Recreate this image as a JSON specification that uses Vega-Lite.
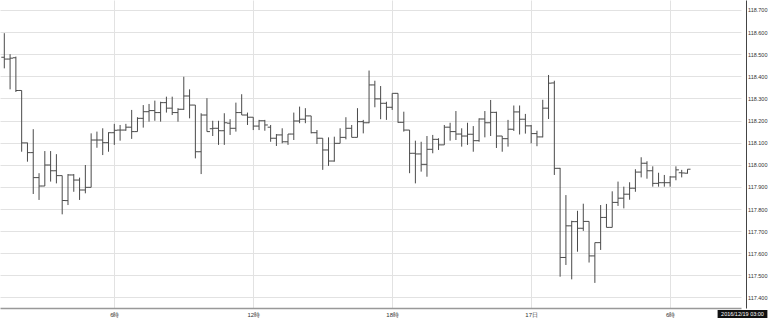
{
  "$schema": "https://vega.github.io/schema/vega-lite/v6.json",
  "width": 741,
  "height": 308,
  "padding": 0,
  "autosize": {"type": "pad"},
  "background": "white",
  "config": {"view": {"stroke": null}, "font": "Liberation Sans"},
  "data": {"values": [
    {"t":"2016-12-16T01:15:00Z","o":118.486,"h":118.595,"l":118.436,"c":118.478},
    {"t":"2016-12-16T01:30:00Z","o":118.478,"h":118.500,"l":118.341,"c":118.482},
    {"t":"2016-12-16T01:45:00Z","o":118.484,"h":118.489,"l":118.329,"c":118.336},
    {"t":"2016-12-16T02:00:00Z","o":118.336,"h":118.336,"l":118.059,"c":118.099},
    {"t":"2016-12-16T02:15:00Z","o":118.099,"h":118.100,"l":118.014,"c":118.055},
    {"t":"2016-12-16T02:30:00Z","o":118.055,"h":118.161,"l":117.868,"c":117.942},
    {"t":"2016-12-16T02:45:00Z","o":117.942,"h":117.962,"l":117.841,"c":117.904},
    {"t":"2016-12-16T03:00:00Z","o":117.904,"h":118.062,"l":117.904,"c":117.999},
    {"t":"2016-12-16T03:15:00Z","o":117.999,"h":118.062,"l":117.924,"c":117.973},
    {"t":"2016-12-16T03:30:00Z","o":117.973,"h":118.048,"l":117.916,"c":117.951},
    {"t":"2016-12-16T03:45:00Z","o":117.951,"h":117.951,"l":117.776,"c":117.838},
    {"t":"2016-12-16T04:00:00Z","o":117.838,"h":117.958,"l":117.818,"c":117.954},
    {"t":"2016-12-16T04:15:00Z","o":117.954,"h":117.958,"l":117.878,"c":117.931},
    {"t":"2016-12-16T04:30:00Z","o":117.931,"h":117.942,"l":117.841,"c":117.886},
    {"t":"2016-12-16T04:45:00Z","o":117.886,"h":117.999,"l":117.871,"c":117.898},
    {"t":"2016-12-16T05:00:00Z","o":117.898,"h":118.142,"l":117.898,"c":118.112},
    {"t":"2016-12-16T05:15:00Z","o":118.112,"h":118.150,"l":118.077,"c":118.112},
    {"t":"2016-12-16T05:30:00Z","o":118.112,"h":118.165,"l":118.044,"c":118.100},
    {"t":"2016-12-16T05:45:00Z","o":118.100,"h":118.147,"l":118.059,"c":118.145},
    {"t":"2016-12-16T06:00:00Z","o":118.145,"h":118.185,"l":118.090,"c":118.156},
    {"t":"2016-12-16T06:15:00Z","o":118.157,"h":118.180,"l":118.109,"c":118.157},
    {"t":"2016-12-16T06:30:00Z","o":118.157,"h":118.185,"l":118.154,"c":118.170},
    {"t":"2016-12-16T06:45:00Z","o":118.170,"h":118.248,"l":118.117,"c":118.150},
    {"t":"2016-12-16T07:00:00Z","o":118.150,"h":118.215,"l":118.150,"c":118.210},
    {"t":"2016-12-16T07:15:00Z","o":118.210,"h":118.270,"l":118.168,"c":118.240},
    {"t":"2016-12-16T07:30:00Z","o":118.240,"h":118.275,"l":118.195,"c":118.245},
    {"t":"2016-12-16T07:45:00Z","o":118.245,"h":118.290,"l":118.199,"c":118.236},
    {"t":"2016-12-16T08:00:00Z","o":118.236,"h":118.285,"l":118.195,"c":118.281},
    {"t":"2016-12-16T08:15:00Z","o":118.281,"h":118.308,"l":118.236,"c":118.256},
    {"t":"2016-12-16T08:30:00Z","o":118.256,"h":118.308,"l":118.225,"c":118.236},
    {"t":"2016-12-16T08:45:00Z","o":118.236,"h":118.256,"l":118.195,"c":118.251},
    {"t":"2016-12-16T09:00:00Z","o":118.251,"h":118.398,"l":118.248,"c":118.311},
    {"t":"2016-12-16T09:15:00Z","o":118.311,"h":118.341,"l":118.210,"c":118.270},
    {"t":"2016-12-16T09:30:00Z","o":118.270,"h":118.270,"l":118.029,"c":118.059},
    {"t":"2016-12-16T09:45:00Z","o":118.059,"h":118.233,"l":117.958,"c":118.225},
    {"t":"2016-12-16T10:00:00Z","o":118.225,"h":118.301,"l":118.150,"c":118.150},
    {"t":"2016-12-16T10:15:00Z","o":118.163,"h":118.199,"l":118.130,"c":118.165},
    {"t":"2016-12-16T10:30:00Z","o":118.165,"h":118.199,"l":118.090,"c":118.154},
    {"t":"2016-12-16T10:45:00Z","o":118.154,"h":118.233,"l":118.090,"c":118.190},
    {"t":"2016-12-16T11:00:00Z","o":118.188,"h":118.206,"l":118.135,"c":118.165},
    {"t":"2016-12-16T11:15:00Z","o":118.165,"h":118.281,"l":118.150,"c":118.236},
    {"t":"2016-12-16T11:30:00Z","o":118.236,"h":118.319,"l":118.225,"c":118.225},
    {"t":"2016-12-16T11:45:00Z","o":118.225,"h":118.236,"l":118.180,"c":118.215},
    {"t":"2016-12-16T12:00:00Z","o":118.215,"h":118.215,"l":118.157,"c":118.175},
    {"t":"2016-12-16T12:15:00Z","o":118.175,"h":118.203,"l":118.157,"c":118.199},
    {"t":"2016-12-16T12:30:00Z","o":118.199,"h":118.203,"l":118.154,"c":118.180},
    {"t":"2016-12-16T12:45:00Z","o":118.170,"h":118.180,"l":118.104,"c":118.120},
    {"t":"2016-12-16T13:00:00Z","o":118.120,"h":118.139,"l":118.085,"c":118.135},
    {"t":"2016-12-16T13:15:00Z","o":118.135,"h":118.165,"l":118.097,"c":118.104},
    {"t":"2016-12-16T13:30:00Z","o":118.104,"h":118.139,"l":118.090,"c":118.139},
    {"t":"2016-12-16T13:45:00Z","o":118.139,"h":118.236,"l":118.112,"c":118.198},
    {"t":"2016-12-16T14:00:00Z","o":118.198,"h":118.263,"l":118.188,"c":118.206},
    {"t":"2016-12-16T14:15:00Z","o":118.206,"h":118.256,"l":118.188,"c":118.221},
    {"t":"2016-12-16T14:30:00Z","o":118.221,"h":118.221,"l":118.142,"c":118.145},
    {"t":"2016-12-16T14:45:00Z","o":118.145,"h":118.157,"l":118.094,"c":118.120},
    {"t":"2016-12-16T15:00:00Z","o":118.120,"h":118.120,"l":117.977,"c":118.067},
    {"t":"2016-12-16T15:15:00Z","o":118.067,"h":118.124,"l":117.995,"c":118.017},
    {"t":"2016-12-16T15:30:00Z","o":118.017,"h":118.127,"l":118.014,"c":118.097},
    {"t":"2016-12-16T15:45:00Z","o":118.097,"h":118.165,"l":118.097,"c":118.124},
    {"t":"2016-12-16T16:00:00Z","o":118.124,"h":118.215,"l":118.115,"c":118.165},
    {"t":"2016-12-16T16:15:00Z","o":118.165,"h":118.180,"l":118.124,"c":118.124},
    {"t":"2016-12-16T16:30:00Z","o":118.124,"h":118.256,"l":118.124,"c":118.195},
    {"t":"2016-12-16T16:45:00Z","o":118.195,"h":118.203,"l":118.142,"c":118.190},
    {"t":"2016-12-16T17:00:00Z","o":118.190,"h":118.426,"l":118.188,"c":118.361},
    {"t":"2016-12-16T17:15:00Z","o":118.361,"h":118.380,"l":118.260,"c":118.298},
    {"t":"2016-12-16T17:30:00Z","o":118.298,"h":118.356,"l":118.206,"c":118.278},
    {"t":"2016-12-16T17:45:00Z","o":118.278,"h":118.285,"l":118.203,"c":118.260},
    {"t":"2016-12-16T18:00:00Z","o":118.260,"h":118.323,"l":118.248,"c":118.323},
    {"t":"2016-12-16T18:15:00Z","o":118.323,"h":118.323,"l":118.190,"c":118.192},
    {"t":"2016-12-16T18:30:00Z","o":118.192,"h":118.240,"l":118.150,"c":118.157},
    {"t":"2016-12-16T18:45:00Z","o":118.157,"h":118.157,"l":117.962,"c":118.052},
    {"t":"2016-12-16T19:00:00Z","o":118.052,"h":118.109,"l":117.916,"c":118.049},
    {"t":"2016-12-16T19:15:00Z","o":118.049,"h":118.104,"l":117.969,"c":118.002},
    {"t":"2016-12-16T19:30:00Z","o":118.002,"h":118.130,"l":117.946,"c":118.070},
    {"t":"2016-12-16T19:45:00Z","o":118.070,"h":118.135,"l":118.052,"c":118.115},
    {"t":"2016-12-16T20:00:00Z","o":118.115,"h":118.120,"l":118.067,"c":118.090},
    {"t":"2016-12-16T20:15:00Z","o":118.090,"h":118.180,"l":118.090,"c":118.170},
    {"t":"2016-12-16T20:30:00Z","o":118.170,"h":118.190,"l":118.109,"c":118.150},
    {"t":"2016-12-16T20:45:00Z","o":118.150,"h":118.243,"l":118.112,"c":118.139},
    {"t":"2016-12-16T21:00:00Z","o":118.139,"h":118.165,"l":118.082,"c":118.130},
    {"t":"2016-12-16T21:15:00Z","o":118.130,"h":118.190,"l":118.090,"c":118.138},
    {"t":"2016-12-16T21:30:00Z","o":118.138,"h":118.175,"l":118.059,"c":118.109},
    {"t":"2016-12-16T21:45:00Z","o":118.109,"h":118.210,"l":118.104,"c":118.207},
    {"t":"2016-12-16T22:00:00Z","o":118.207,"h":118.243,"l":118.124,"c":118.190},
    {"t":"2016-12-16T22:15:00Z","o":118.190,"h":118.293,"l":118.130,"c":118.237},
    {"t":"2016-12-16T22:30:00Z","o":118.237,"h":118.240,"l":118.076,"c":118.130},
    {"t":"2016-12-16T22:45:00Z","o":118.130,"h":118.130,"l":118.059,"c":118.118},
    {"t":"2016-12-16T23:00:00Z","o":118.118,"h":118.203,"l":118.082,"c":118.161},
    {"t":"2016-12-16T23:15:00Z","o":118.161,"h":118.268,"l":118.153,"c":118.239},
    {"t":"2016-12-16T23:30:00Z","o":118.239,"h":118.268,"l":118.137,"c":118.206},
    {"t":"2016-12-16T23:45:00Z","o":118.206,"h":118.230,"l":118.141,"c":118.176},
    {"t":"2016-12-17T00:00:00Z","o":118.176,"h":118.180,"l":118.097,"c":118.141},
    {"t":"2016-12-17T00:15:00Z","o":118.141,"h":118.154,"l":118.084,"c":118.126},
    {"t":"2016-12-17T00:30:00Z","o":118.126,"h":118.294,"l":118.124,"c":118.256},
    {"t":"2016-12-17T00:45:00Z","o":118.256,"h":118.406,"l":118.207,"c":118.369},
    {"t":"2016-12-17T01:00:00Z","o":118.370,"h":118.380,"l":117.954,"c":117.984},
    {"t":"2016-12-17T01:15:00Z","o":117.984,"h":117.986,"l":117.494,"c":117.581},
    {"t":"2016-12-17T01:30:00Z","o":117.581,"h":117.863,"l":117.547,"c":117.724},
    {"t":"2016-12-17T01:45:00Z","o":117.724,"h":117.747,"l":117.482,"c":117.743},
    {"t":"2016-12-17T02:00:00Z","o":117.743,"h":117.792,"l":117.607,"c":117.713},
    {"t":"2016-12-17T02:15:00Z","o":117.713,"h":117.824,"l":117.701,"c":117.744},
    {"t":"2016-12-17T02:30:00Z","o":117.744,"h":117.744,"l":117.558,"c":117.588},
    {"t":"2016-12-17T02:45:00Z","o":117.588,"h":117.648,"l":117.466,"c":117.648},
    {"t":"2016-12-17T03:00:00Z","o":117.648,"h":117.818,"l":117.615,"c":117.762},
    {"t":"2016-12-17T03:15:00Z","o":117.762,"h":117.823,"l":117.717,"c":117.717},
    {"t":"2016-12-17T03:30:00Z","o":117.717,"h":117.880,"l":117.717,"c":117.830},
    {"t":"2016-12-17T03:45:00Z","o":117.830,"h":117.924,"l":117.814,"c":117.849},
    {"t":"2016-12-17T04:00:00Z","o":117.849,"h":117.901,"l":117.803,"c":117.867},
    {"t":"2016-12-17T04:15:00Z","o":117.867,"h":117.921,"l":117.842,"c":117.894},
    {"t":"2016-12-17T04:30:00Z","o":117.894,"h":117.980,"l":117.878,"c":117.967},
    {"t":"2016-12-17T04:45:00Z","o":117.967,"h":118.034,"l":117.943,"c":118.007},
    {"t":"2016-12-17T05:00:00Z","o":118.007,"h":118.016,"l":117.937,"c":117.973},
    {"t":"2016-12-17T05:15:00Z","o":117.973,"h":117.993,"l":117.901,"c":117.916},
    {"t":"2016-12-17T05:30:00Z","o":117.916,"h":117.964,"l":117.901,"c":117.919},
    {"t":"2016-12-17T05:45:00Z","o":117.919,"h":117.954,"l":117.901,"c":117.919},
    {"t":"2016-12-17T06:00:00Z","o":117.919,"h":117.949,"l":117.901,"c":117.945},
    {"t":"2016-12-17T06:15:00Z","o":117.945,"h":117.993,"l":117.930,"c":117.977},
    {"t":"2016-12-17T06:30:00Z","o":117.964,"h":117.977,"l":117.943,"c":117.963},
    {"t":"2016-12-17T06:45:00Z","o":117.962,"h":117.980,"l":117.960,"c":117.980}
  ]},
  "encoding": {
    "x": {
      "field": "t",
      "type": "temporal",
      "scale": {
        "type": "utc",
        "domain": [
          {"year": 2016, "month": 12, "date": 16, "hours": 1, "minutes": 3, "seconds": 52, "utc": true},
          {"year": 2016, "month": 12, "date": 17, "hours": 9, "minutes": 3, "seconds": 36, "utc": true}
        ]
      },
      "axis": {
        "title": null,
        "orient": "bottom",
        "values": [
          {"year": 2016, "month": 12, "date": 16, "hours": 6, "utc": true},
          {"year": 2016, "month": 12, "date": 16, "hours": 12, "utc": true},
          {"year": 2016, "month": 12, "date": 16, "hours": 18, "utc": true},
          {"year": 2016, "month": 12, "date": 17, "hours": 0, "utc": true},
          {"year": 2016, "month": 12, "date": 17, "hours": 6, "utc": true}
        ],
        "labelExpr": "utcFormat(datum.value, '%H') == '00' ? utcFormat(datum.value, '%-d') + '日' : utcFormat(datum.value, '%-H') + '時'",
        "grid": true,
        "gridColor": "#e2e2e2",
        "gridWidth": 1,
        "ticks": false,
        "domain": true,
        "domainColor": "#999999",
        "domainWidth": 1.5,
        "labelFontSize": 6,
        "labelColor": "#333333",
        "labelPadding": 3,
        "labelOverlap": false
      }
    }
  },
  "layer": [
    {
      "mark": {"type": "rule", "color": "#4a4a4a", "strokeWidth": 1},
      "encoding": {
        "y": {
          "field": "l",
          "type": "quantitative",
          "scale": {"domain": [117.3525, 118.745], "zero": false, "nice": false},
          "axis": {"title": null, "orient": "right", "offset": 5, "values": [117.4, 117.5, 117.6, 117.7, 117.8, 117.9, 118.0, 118.1, 118.2, 118.3, 118.4, 118.5, 118.6, 118.7], "format": ".3f", "grid": true, "gridColor": "#e2e2e2", "ticks": false, "domain": true, "domainColor": "#444444", "labelFontSize": 5.5, "labelColor": "#333333", "labelPadding": 1.5, "labelOverlap": false, "labelBound": false}
        },
        "y2": {"field": "h"}
      }
    },
    {
      "mark": {"type": "tick", "orient": "horizontal", "size": 3, "thickness": 1, "xOffset": -1.5, "color": "#4a4a4a", "opacity": 1},
      "encoding": {
        "y": {
          "field": "o",
          "type": "quantitative",
          "axis": {"title": null, "orient": "right", "offset": 5, "values": [117.4, 117.5, 117.6, 117.7, 117.8, 117.9, 118.0, 118.1, 118.2, 118.3, 118.4, 118.5, 118.6, 118.7], "format": ".3f", "grid": true, "gridColor": "#e2e2e2", "ticks": false, "domain": true, "domainColor": "#444444", "labelFontSize": 5.5, "labelColor": "#333333", "labelPadding": 1.5, "labelOverlap": false, "labelBound": false}
        }
      }
    },
    {
      "mark": {"type": "tick", "orient": "horizontal", "size": 3, "thickness": 1, "xOffset": 1.5, "color": "#4a4a4a", "opacity": 1},
      "encoding": {
        "y": {
          "field": "c",
          "type": "quantitative",
          "axis": {"title": null, "orient": "right", "offset": 5, "values": [117.4, 117.5, 117.6, 117.7, 117.8, 117.9, 118.0, 118.1, 118.2, 118.3, 118.4, 118.5, 118.6, 118.7], "format": ".3f", "grid": true, "gridColor": "#e2e2e2", "ticks": false, "domain": true, "domainColor": "#444444", "labelFontSize": 5.5, "labelColor": "#333333", "labelPadding": 1.5, "labelOverlap": false, "labelBound": false}
        }
      }
    },
    {
      "data": {"values": [{"edge": "right"}]},
      "mark": {"type": "rule", "color": "#444444", "strokeWidth": 1},
      "encoding": {
        "x": {"datum": {"year": 2016, "month": 12, "date": 17, "hours": 9, "minutes": 3, "seconds": 36, "utc": true}, "type": "temporal"}
      }
    },
    {
      "data": {"values": [{"from": "2016-12-17T08:03:00Z", "to": "2016-12-17T10:12:00Z", "mid": "2016-12-17T09:07:30Z", "y1": 117.3435, "y2": 117.307, "ym": 117.3255, "label": "2016/12/19 03:00"}]},
      "layer": [
        {
          "mark": {"type": "rect", "color": "#111111", "clip": false},
          "encoding": {
            "x": {"field": "from", "type": "temporal"},
            "x2": {"field": "to"},
            "y": {
              "field": "y1",
              "type": "quantitative",
              "axis": {"title": null, "orient": "right", "offset": 5, "values": [117.4, 117.5, 117.6, 117.7, 117.8, 117.9, 118.0, 118.1, 118.2, 118.3, 118.4, 118.5, 118.6, 118.7], "format": ".3f", "grid": true, "gridColor": "#e2e2e2", "ticks": false, "domain": true, "domainColor": "#444444", "labelFontSize": 5.5, "labelColor": "#333333", "labelPadding": 1.5, "labelOverlap": false, "labelBound": false}
            },
            "y2": {"field": "y2"}
          }
        },
        {
          "mark": {"type": "text", "color": "white", "fontSize": 5.5, "align": "center", "baseline": "middle", "clip": false},
          "encoding": {
            "x": {"field": "mid", "type": "temporal"},
            "y": {
              "field": "ym",
              "type": "quantitative",
              "axis": {"title": null, "orient": "right", "offset": 5, "values": [117.4, 117.5, 117.6, 117.7, 117.8, 117.9, 118.0, 118.1, 118.2, 118.3, 118.4, 118.5, 118.6, 118.7], "format": ".3f", "grid": true, "gridColor": "#e2e2e2", "ticks": false, "domain": true, "domainColor": "#444444", "labelFontSize": 5.5, "labelColor": "#333333", "labelPadding": 1.5, "labelOverlap": false, "labelBound": false}
            },
            "text": {"field": "label"}
          }
        }
      ]
    }
  ]
}
